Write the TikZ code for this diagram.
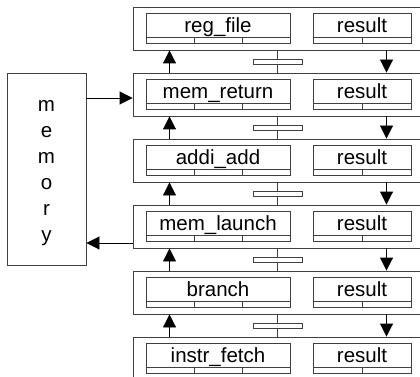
\documentclass[tikz,border=0pt]{standalone}
\usepackage{fontspec}
\setmainfont{Liberation Sans}
\usetikzlibrary{arrows.meta}
\begin{document}
\begin{tikzpicture}[x=1pt,y=-1pt,
  ln/.style={draw=black!75, line width=0.9pt},
  stagebox/.style={ln, minimum width=297pt, minimum height=43pt, inner sep=0pt},
  leftbox/.style={ln, minimum width=144pt, minimum height=30pt, inner sep=0pt,
    text height=14pt, text depth=5.4pt, font=\fontsize{20.5}{24}\selectfont},
  resbox/.style={ln, minimum width=98pt, minimum height=30pt, inner sep=0pt,
    text height=14pt, text depth=5.4pt, font=\fontsize{20.5}{24}\selectfont},
  pipebar/.style={ln, fill=white, minimum width=49pt, minimum height=5pt, inner sep=0pt},
  arr/.style={draw=black, line width=0.9pt, -{Triangle[length=13pt,width=13pt]}},
  conn/.style={ln},
]
\useasboundingbox (0,0) rectangle (420,377);
\clip (0,0) rectangle (420,377);
\coordinate (ux) at (169.5,0);
\coordinate (dx) at (386.5,0);
\coordinate (cx) at (277.5,0);
\foreach \lab [count=\i from 0] in {reg\_file,mem\_return,addi\_add,mem\_launch,branch,instr\_fetch}{
  \pgfmathsetmacro\T{7+66*\i}
  \node[stagebox] (s\i) at (281.5,\T+21.5) {};
  \node[leftbox] (l\i) at (218,\T+21) {\lab};
  \node[resbox] (r\i) at (362,\T+21) {result};
  \draw[ln] (146,\T+30.7) -- (290,\T+30.7);
  \draw[ln] (194,\T+30.7) -- (194,\T+36);
  \draw[ln] (242,\T+30.7) -- (242,\T+36);
  \draw[ln] (313,\T+30.7) -- (411,\T+30.7);
  \draw[ln] (362,\T+30.7) -- (362,\T+36);
}
\foreach \i in {0,...,4}{
  \pgfmathtruncatemacro\j{\i+1}
  \pgfmathsetmacro\T{7+66*\i}
  \node[pipebar] (p\i) at (277.5,\T+54.5) {};
  \draw[conn] (s\i.south -| cx) -- (p\i.north);
  \draw[conn] (p\i.south) -- (s\j.north -| cx);
  \draw[arr] (s\j.north -| ux) -- (s\i.south -| ux);
  \draw[arr] (s\i.south -| dx) -- (s\j.north -| dx);
}
\node[ln, minimum width=79pt, minimum height=192pt, inner sep=0pt] (mem) at (46.5,169) {};
\node[align=center, inner sep=0pt, font=\fontsize{20.5}{26}\selectfont] (memtxt) at (46.5,173.5) {m\\e\\m\\o\\r\\y};
\coordinate (a1) at (0,98);
\coordinate (a2) at (0,243);
\draw[arr] (mem.east |- a1) -- (s1.west |- a1);
\draw[arr] (s3.west |- a2) -- (mem.east |- a2);
\end{tikzpicture}
\end{document}
